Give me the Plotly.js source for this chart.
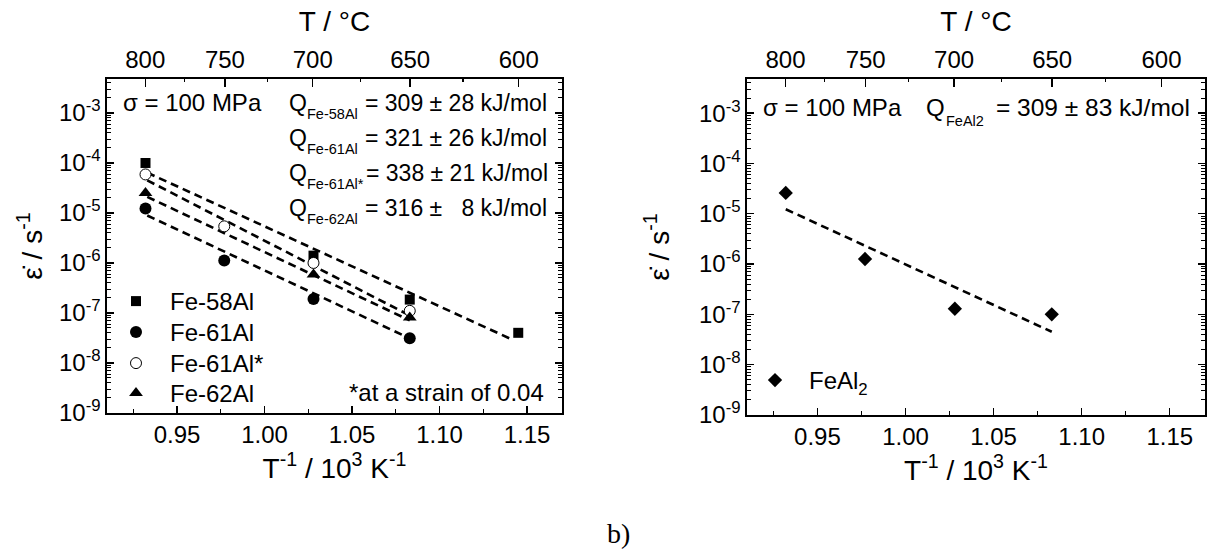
<!DOCTYPE html>
<html>
<head>
<meta charset="utf-8">
<script src="https://cdn.plot.ly/plotly-3.0.1.min.js"></script>
<style>html,body{margin:0;padding:0;background:#fff;}#chart{width:1209px;height:550px;}</style>
</head>
<body>
<div id="chart"></div>
<script>
// ---- data ----
const topTempLabels = [800, 750, 700, 650, 600];      // °C, major ticks of top axis
const topTempMinor  = [775, 725, 675, 625];           // °C, minor ticks of top axis
const xTickVals = [0.95, 1.00, 1.05, 1.10, 1.15];
const xTickText = ['0.95', '1.00', '1.05', '1.10', '1.15'];
const xMinorVals = [0.925, 0.975, 1.025, 1.075, 1.125];
const yTickVals = [1e-9, 1e-8, 1e-7, 1e-6, 1e-5, 1e-4, 1e-3];
const yTickText = ['10<sup>-9</sup>','10<sup>-8</sup>','10<sup>-7</sup>','10<sup>-6</sup>','10<sup>-5</sup>','10<sup>-4</sup>','10<sup>-3</sup>'];

const fe58X = [0.932, 1.028, 1.083, 1.145];
const fe58Y = [1.0e-4, 1.4e-6, 1.85e-7, 4.0e-8];
const fe61X = [0.932, 0.977, 1.028, 1.083];
const fe61Y = [1.23e-5, 1.12e-6, 1.9e-7, 3.1e-8];
const fe61sX = [0.932, 0.977, 1.028, 1.083];
const fe61sY = [5.9e-5, 5.4e-6, 1.0e-6, 1.1e-7];
const fe62X = [0.932, 1.028, 1.083];
const fe62Y = [2.5e-5, 5.9e-7, 8.1e-8];
const feal2X = [0.932, 0.977, 1.028, 1.083];
const feal2Y = [2.6e-5, 1.26e-6, 1.29e-7, 1.0e-7];

// fitted Arrhenius lines (end points)
const fit58X = [0.933, 1.140];  const fit58Y = [6.4e-5, 3.1e-8];
const fit61sX = [0.933, 1.083]; const fit61sY = [4.5e-5, 8.9e-8];
const fit62X = [0.933, 1.083];  const fit62Y = [2.1e-5, 7.1e-8];
const fit61X = [0.933, 1.083];  const fit61Y = [8.9e-6, 3.1e-8];
const fitAl2X = [0.932, 1.083]; const fitAl2Y = [1.23e-5, 4.5e-8];

// ---- helpers ----
const W = 1209, H = 550;
const px = v => v / W, py = v => 1 - v / H;
const toInv = t => 1000 / (t + 273.15);
const FONT = 'Liberation Sans, Arial, sans-serif';

const dashLine = (x, y, xa, ya) => ({x, y, xaxis: xa, yaxis: ya, type: 'scatter', mode: 'lines',
  line: {color: '#000', width: 2.6, dash: '8px,5px'}, showlegend: false, hoverinfo: 'skip'});

// lines live on the bottom axes, markers on the overlaying top axes (same range) so they sit above the lines
const traces = [
  dashLine(fit58X, fit58Y, 'x', 'y'),
  dashLine(fit61sX, fit61sY, 'x', 'y'),
  dashLine(fit62X, fit62Y, 'x', 'y'),
  dashLine(fit61X, fit61Y, 'x', 'y'),
  dashLine(fitAl2X, fitAl2Y, 'x3', 'y3'),
  {x: fe58X, y: fe58Y, name: 'Fe-58Al', type: 'scatter', mode: 'markers', xaxis: 'x2', yaxis: 'y',
   legend: 'legend', marker: {symbol: 'square', size: 10, color: '#000'}},
  {x: fe61X, y: fe61Y, name: 'Fe-61Al', type: 'scatter', mode: 'markers', xaxis: 'x2', yaxis: 'y',
   legend: 'legend3', marker: {symbol: 'circle', size: 12, color: '#000'}},
  {x: fe61sX, y: fe61sY, name: 'Fe-61Al*', type: 'scatter', mode: 'markers', xaxis: 'x2', yaxis: 'y',
   legend: 'legend4', marker: {symbol: 'circle', size: 11, color: '#fff', line: {color: '#000', width: 1}}},
  {x: fe62X, y: fe62Y, name: 'Fe-62Al', type: 'scatter', mode: 'markers', xaxis: 'x2', yaxis: 'y',
   legend: 'legend5', marker: {symbol: 'triangle-up', size: 12, color: '#000'}},
  {x: feal2X, y: feal2Y, name: 'FeAl<sub>2</sub>', type: 'scatter', mode: 'markers', xaxis: 'x4', yaxis: 'y3',
   legend: 'legend2', marker: {symbol: 'diamond', size: 11, color: '#000'}}
];

const tickFont = {family: FONT, size: 24, color: '#000'};
const titleFont = {family: FONT, size: 28, color: '#000'};
const xRange = [0.91, 1.17];
const yRange = [-9.002, -2.32];

const bottomX = (domain, anchor) => ({
  domain, anchor, range: xRange, showline: true, linecolor: '#000', linewidth: 1.6,
  ticks: 'inside', ticklen: 7, tickwidth: 1.4, tickcolor: '#000',
  tickmode: 'array', tickvals: xTickVals, ticktext: xTickText,
  minor: {tickmode: 'array', tickvals: xMinorVals, ticks: 'inside', ticklen: 4, tickwidth: 1.2, tickcolor: '#000'},
  showgrid: false, zeroline: false, tickfont: tickFont,
  title: {text: 'T<sup>-1</sup> / 10<sup>3</sup> K<sup>-1</sup>', font: titleFont, standoff: 4}
});
const topX = (overlay, anchor) => ({
  overlaying: overlay, anchor, side: 'top', range: xRange, showline: true, linecolor: '#000', linewidth: 1.6,
  ticks: 'inside', ticklen: 8, tickwidth: 1.4, tickcolor: '#000',
  tickmode: 'array', tickvals: topTempLabels.map(toInv), ticktext: topTempLabels.map(String),
  minor: {tickmode: 'array', tickvals: topTempMinor.map(toInv), ticks: 'inside', ticklen: 3, tickwidth: 1.2, tickcolor: '#000'},
  showgrid: false, zeroline: false, tickfont: tickFont,
  title: {text: 'T / °C', font: titleFont, standoff: 6}
});
const leftY = (domain, anchor, standoff) => ({
  domain, anchor, type: 'log', range: yRange, showline: true, linecolor: '#000', linewidth: 1.6, mirror: 'ticks',
  ticks: 'inside', ticklen: 7, tickwidth: 1.4, tickcolor: '#000',
  tickmode: 'array', tickvals: yTickVals, ticktext: yTickText,
  minor: {dtick: 'D1', ticks: 'inside', ticklen: 4, tickwidth: 1, tickcolor: '#000'},
  showgrid: false, zeroline: false, tickfont: tickFont,
  title: {text: 'ε̇ / s<sup>-1</sup>', font: titleFont, standoff}
});

const ann = (text, x, y, xanchor, size) => ({text, x: px(x), y: py(y), xref: 'paper', yref: 'paper',
  xanchor: xanchor || 'left', yanchor: 'middle', showarrow: false, font: {family: FONT, size: size || 23, color: '#000'}});

// single-entry legend placed so that its row is centred at pixel row cy
const legendAt = (lx, cy) => ({x: px(lx), y: py(cy - 21), xanchor: 'left', yanchor: 'top', bgcolor: 'rgba(0,0,0,0)',
  font: {family: FONT, size: 24, color: '#000'}, itemwidth: 58});

const layout = {
  width: W, height: H, margin: {l: 0, r: 0, t: 0, b: 0},
  paper_bgcolor: '#fff', plot_bgcolor: '#fff',
  font: {family: FONT, color: '#000'},
  xaxis: bottomX([px(107), px(562)], 'y'),
  xaxis2: topX('x', 'y'),
  yaxis: leftY([py(413), py(79)], 'x', 8),
  xaxis3: bottomX([px(747), px(1205)], 'y3'),
  xaxis4: topX('x3', 'y3'),
  yaxis3: leftY([py(415), py(79)], 'x3', 21),
  legend:  legendAt(102, 300),
  legend3: legendAt(102, 331),
  legend4: legendAt(102, 362),
  legend5: legendAt(102, 392),
  legend2: legendAt(741, 379),
  annotations: [
    ann('σ = 100 MPa', 121, 103, 'left', 24),
    ann('Q', 287, 103), ann('Fe-58Al', 305, 114, 'left', 14.5),
    ann('= 309 ± 28 kJ/mol', 549, 103, 'right'),
    ann('Q', 287, 138), ann('Fe-61Al', 305, 149, 'left', 14.5),
    ann('= 321 ± 26 kJ/mol', 549, 138, 'right'),
    ann('Q', 287, 173), ann('Fe-61Al*', 305, 184, 'left', 14.5),
    ann('= 338 ± 21 kJ/mol', 550, 173, 'right'),
    ann('Q', 287, 208), ann('Fe-62Al', 305, 219, 'left', 14.5),
    ann('= 316 ± \u20078 kJ/mol', 549, 208, 'right'),
    ann('*at a strain of 0.04', 546, 392, 'right', 24),
    ann('σ = 100 MPa', 761, 108, 'left', 24),
    ann('Q', 924, 108, 'left', 24), ann('FeAl2', 944, 121, 'left', 14.5),
    ann('= 309 ± 83 kJ/mol', 1192, 108, 'right', 24.5),
    {text: 'b)', x: px(619), y: py(533), xref: 'paper', yref: 'paper', xanchor: 'center', yanchor: 'middle',
     showarrow: false, font: {family: 'Liberation Serif, Times New Roman, serif', size: 28, color: '#000'}}
  ]
};

Plotly.newPlot('chart', traces, layout, {staticPlot: true, displayModeBar: false});
</script>
</body>
</html>
